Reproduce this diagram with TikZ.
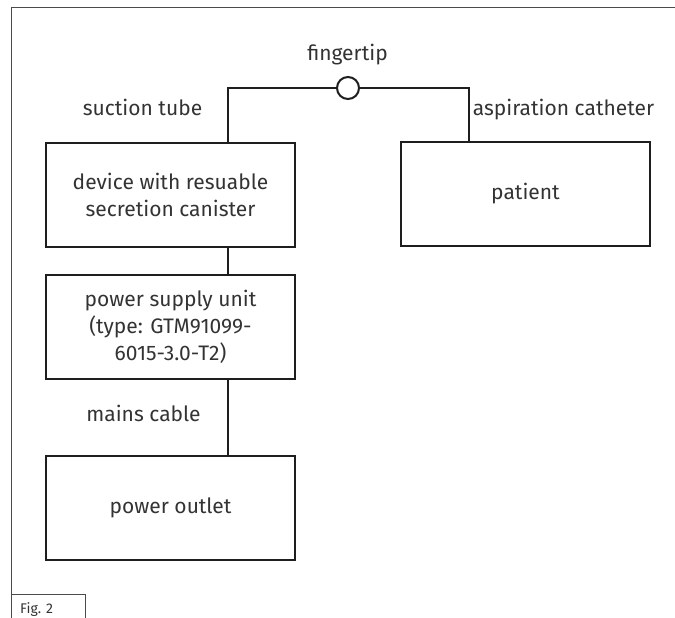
\documentclass[tikz,border=0pt]{standalone}
\usepackage{fontspec}
\setmainfont{Fira Sans}
\usepackage{tikz}
\usetikzlibrary{positioning}
\definecolor{txt}{HTML}{333333}
\definecolor{ln}{HTML}{1E1E1E}
\tikzset{
unitbox/.style={draw=ln,line width=2pt,minimum width=249pt,minimum height=104pt,align=center,text=txt,font=\fontsize{21}{26.7}\selectfont,inner sep=0pt},
conn/.style={draw=ln,line width=2pt},
frameline/.style={draw=ln!80,line width=1pt},
lbl/.style={text=txt,font=\fontsize{21}{26.7}\selectfont,anchor=base,inner sep=0pt}
}
\begin{document}
\begin{tikzpicture}[x=1pt,y=-1pt]
\useasboundingbox (0,0) rectangle (675,618);
\draw[frameline](11,618)|-(675,8);
\draw[frameline](11,594)-|(85,618);
\node[anchor=base west,text=txt,font=\fontsize{14}{16}\selectfont,inner sep=0pt](fig) at (20,613){Fig. 2};
\node[unitbox](device) at (170.5,195){device with resuable\\secretion canister};
\node[unitbox](patient) at (525.5,194){patient};
\node[unitbox](psu) at (170.5,327){power supply unit\\(type: GTM91099-\\6015-3.0-T2)};
\node[unitbox](outlet) at (170.5,507.5){power outlet};
\coordinate (tl) at (227.5,88);
\coordinate (tr) at (469,88);
\node[draw=ln,line width=2pt,circle,minimum size=22pt,inner sep=0pt,fill=white](tip) at (348,88){};
\draw[conn](tl|-device.north)--(tl)--(tip.west);
\draw[conn](tip.east)--(tr)--(tr|-patient.north);
\draw[conn](device.south-|tl)--(psu.north-|tl);
\draw[conn](psu.south-|tl)--(outlet.north-|tl);
\node[lbl](tiplbl) at (347.5,60.5){fingertip};
\node[lbl](tubelbl) at (142.5,115){suction tube};
\node[lbl](cathlbl) at (563.5,115){aspiration catheter};
\node[lbl](cablelbl) at (143.5,421.5){mains cable};
\end{tikzpicture}
\end{document}
